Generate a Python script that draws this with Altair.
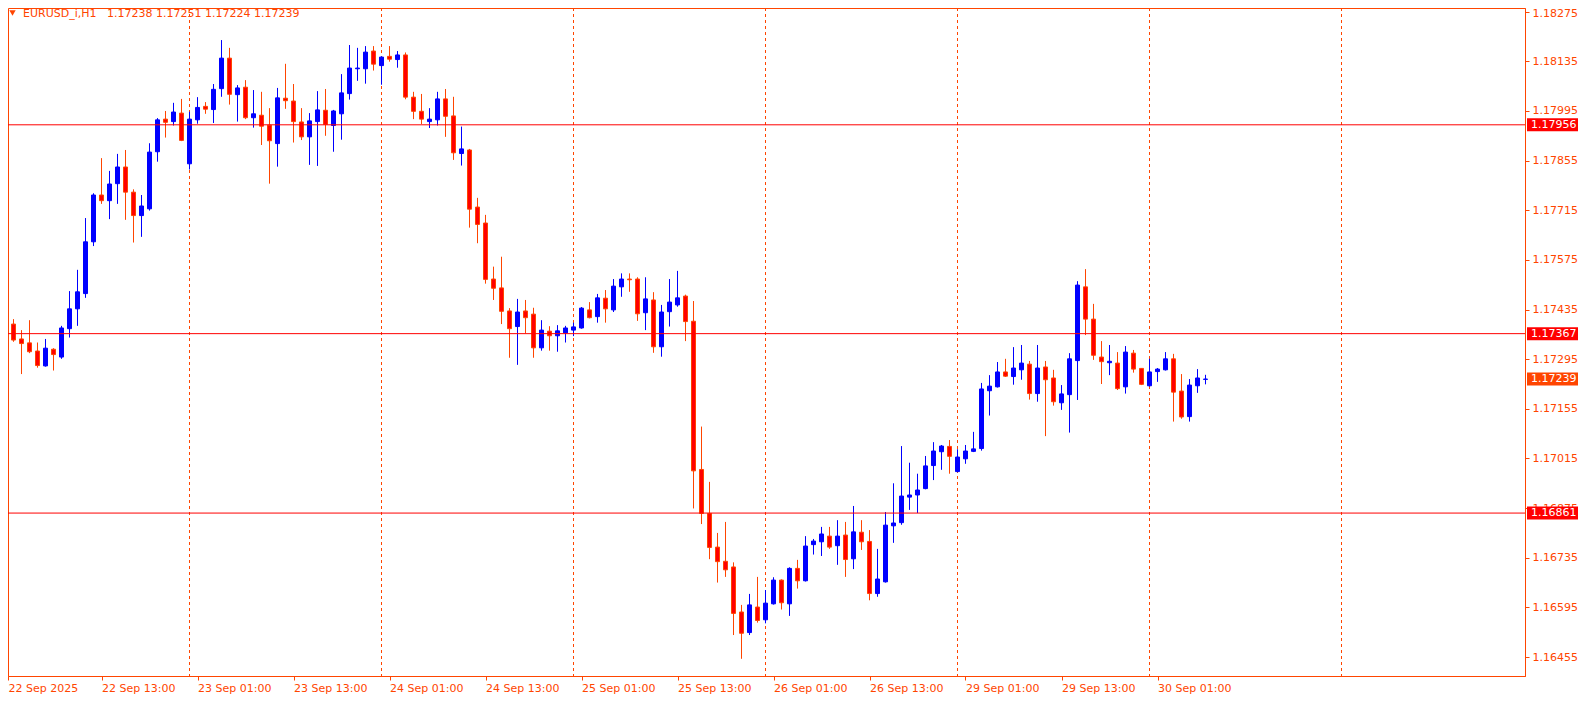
import altair as alt
import pandas as pd

symbol = "EURUSD_i,H1"

open_ = [1.17434, 1.17394, 1.17352, 1.17341, 1.17318, 1.17276, 1.17323, 1.17301, 1.17381, 1.17437,
         1.17480, 1.17626, 1.17758, 1.17742, 1.17790, 1.17837, 1.17766, 1.17700, 1.17719, 1.17880,
         1.17972, 1.17965, 1.17989, 1.17846, 1.17970, 1.18008, 1.17999, 1.18058, 1.18144, 1.18041,
         1.18062, 1.17976, 1.17983, 1.17955, 1.17903, 1.18031, 1.18023, 1.17964, 1.17922, 1.17965,
         1.17997, 1.17954, 1.17987, 1.18044, 1.18114, 1.18114, 1.18164, 1.18123, 1.18149, 1.18140,
         1.18153, 1.18034, 1.17994, 1.17965, 1.17970, 1.18029, 1.17981, 1.17875, 1.17885, 1.17724,
         1.17679, 1.17521, 1.17496, 1.17431, 1.17387, 1.17431, 1.17422, 1.17327, 1.17374, 1.17361,
         1.17369, 1.17377, 1.17383, 1.17434, 1.17415, 1.17467, 1.17434, 1.17499, 1.17521, 1.17521,
         1.17426, 1.17462, 1.17330, 1.17429, 1.17448, 1.17473, 1.17402, 1.16984, 1.16860, 1.16765,
         1.16725, 1.16709, 1.16582, 1.16524, 1.16596, 1.16560, 1.16605, 1.16672, 1.16605, 1.16705,
         1.16670, 1.16772, 1.16780, 1.16796, 1.16769, 1.16799, 1.16732, 1.16807, 1.16781, 1.16634,
         1.16667, 1.16825, 1.16834, 1.16906, 1.16912, 1.16930, 1.16995, 1.17034, 1.17049, 1.16978,
         1.17014, 1.17035, 1.17043, 1.17206, 1.17217, 1.17259, 1.17246, 1.17265, 1.17281, 1.17198,
         1.17273, 1.17242, 1.17172, 1.17195, 1.17291, 1.17499, 1.17408, 1.17301, 1.17285, 1.17284,
         1.17217, 1.17312, 1.17269, 1.17220, 1.17260, 1.17265, 1.17296, 1.17205, 1.17133, 1.17220,
         1.17238]

high = [1.17481, 1.17408, 1.17377, 1.17405, 1.17342, 1.17352, 1.17326, 1.17389, 1.17487, 1.17547,
        1.17693, 1.17763, 1.17862, 1.17826, 1.17874, 1.17885, 1.17774, 1.17758, 1.17904, 1.17975,
        1.17995, 1.18018, 1.18029, 1.17993, 1.18034, 1.18020, 1.18071, 1.18195, 1.18173, 1.18068,
        1.18082, 1.18054, 1.18049, 1.18003, 1.18060, 1.18128, 1.18071, 1.18003, 1.17989, 1.18051,
        1.18057, 1.17998, 1.18099, 1.18181, 1.18173, 1.18178, 1.18178, 1.18149, 1.18178, 1.18164,
        1.18160, 1.18049, 1.18043, 1.18003, 1.18049, 1.18057, 1.18035, 1.17951, 1.17888, 1.17750,
        1.17702, 1.17556, 1.17584, 1.17439, 1.17465, 1.17462, 1.17440, 1.17405, 1.17388, 1.17391,
        1.17389, 1.17398, 1.17442, 1.17456, 1.17479, 1.17490, 1.17521, 1.17537, 1.17537, 1.17526,
        1.17526, 1.17484, 1.17448, 1.17521, 1.17544, 1.17477, 1.17459, 1.17105, 1.16949, 1.16805,
        1.16836, 1.16722, 1.16602, 1.16633, 1.16681, 1.16644, 1.16680, 1.16674, 1.16708, 1.16729,
        1.16796, 1.16788, 1.16822, 1.16822, 1.16841, 1.16836, 1.16881, 1.16841, 1.16813, 1.16760,
        1.16864, 1.16945, 1.17050, 1.17003, 1.16972, 1.17022, 1.17061, 1.17053, 1.17067, 1.17041,
        1.17053, 1.17090, 1.17228, 1.17250, 1.17287, 1.17296, 1.17329, 1.17335, 1.17290, 1.17335,
        1.17290, 1.17265, 1.17222, 1.17312, 1.17515, 1.17549, 1.17451, 1.17346, 1.17335, 1.17315,
        1.17332, 1.17321, 1.17270, 1.17296, 1.17270, 1.17315, 1.17310, 1.17253, 1.17239, 1.17267,
        1.17251]

low = [1.17382, 1.17344, 1.17253, 1.17312, 1.17271, 1.17274, 1.17263, 1.17296, 1.17356, 1.17389,
       1.17468, 1.17614, 1.17733, 1.17690, 1.17733, 1.17688, 1.17624, 1.17640, 1.17714, 1.17852,
       1.17920, 1.17954, 1.17910, 1.17830, 1.17959, 1.17987, 1.17961, 1.18035, 1.18013, 1.17965,
       1.17972, 1.17948, 1.17899, 1.17790, 1.17838, 1.18001, 1.17906, 1.17913, 1.17843, 1.17840,
       1.17925, 1.17880, 1.17914, 1.18027, 1.18080, 1.18072, 1.18109, 1.18069, 1.18134, 1.18117,
       1.18028, 1.17972, 1.17958, 1.17947, 1.17954, 1.17922, 1.17857, 1.17841, 1.17666, 1.17622,
       1.17508, 1.17462, 1.17394, 1.17299, 1.17279, 1.17368, 1.17299, 1.17319, 1.17319, 1.17316,
       1.17342, 1.17360, 1.17381, 1.17410, 1.17398, 1.17398, 1.17428, 1.17471, 1.17485, 1.17403,
       1.17377, 1.17313, 1.17302, 1.17387, 1.17443, 1.17346, 1.16874, 1.16830, 1.16731, 1.16665,
       1.16681, 1.16517, 1.16450, 1.16517, 1.16552, 1.16550, 1.16603, 1.16589, 1.16571, 1.16648,
       1.16668, 1.16744, 1.16740, 1.16760, 1.16715, 1.16681, 1.16703, 1.16757, 1.16615, 1.16625,
       1.16665, 1.16777, 1.16828, 1.16870, 1.16861, 1.16928, 1.16954, 1.16983, 1.16972, 1.16976,
       1.17000, 1.17033, 1.17037, 1.17136, 1.17215, 1.17245, 1.17223, 1.17237, 1.17181, 1.17175,
       1.17078, 1.17164, 1.17152, 1.17088, 1.17180, 1.17363, 1.17293, 1.17225, 1.17250, 1.17208,
       1.17198, 1.17257, 1.17222, 1.17218, 1.17231, 1.17263, 1.17119, 1.17127, 1.17119, 1.17200,
       1.17224]

close = [1.17399, 1.17349, 1.17339, 1.17316, 1.17277, 1.17326, 1.17308, 1.17383, 1.17437, 1.17485,
         1.17626, 1.17758, 1.17742, 1.17789, 1.17837, 1.17766, 1.17700, 1.17727, 1.17879, 1.17970,
         1.17963, 1.17992, 1.17912, 1.17972, 1.18005, 1.18000, 1.18056, 1.18144, 1.18042, 1.18060,
         1.17976, 1.17987, 1.17952, 1.17911, 1.18032, 1.18024, 1.17965, 1.17922, 1.17967, 1.17998,
         1.17957, 1.17995, 1.18046, 1.18116, 1.18116, 1.18161, 1.18127, 1.18147, 1.18141, 1.18153,
         1.18034, 1.17994, 1.17972, 1.17972, 1.18029, 1.17980, 1.17877, 1.17888, 1.17718, 1.17675,
         1.17520, 1.17495, 1.17430, 1.17381, 1.17428, 1.17412, 1.17327, 1.17377, 1.17361, 1.17375,
         1.17383, 1.17386, 1.17439, 1.17412, 1.17468, 1.17437, 1.17501, 1.17521, 1.17519, 1.17423,
         1.17465, 1.17330, 1.17428, 1.17456, 1.17468, 1.17401, 1.16980, 1.16860, 1.16764, 1.16724,
         1.16701, 1.16578, 1.16522, 1.16602, 1.16558, 1.16607, 1.16672, 1.16608, 1.16705, 1.16670,
         1.16768, 1.16782, 1.16802, 1.16765, 1.16796, 1.16730, 1.16808, 1.16780, 1.16634, 1.16675,
         1.16827, 1.16833, 1.16909, 1.16912, 1.16926, 1.16994, 1.17036, 1.17050, 1.17021, 1.17019,
         1.17036, 1.17042, 1.17211, 1.17219, 1.17259, 1.17247, 1.17270, 1.17284, 1.17198, 1.17270,
         1.17237, 1.17175, 1.17197, 1.17296, 1.17504, 1.17408, 1.17306, 1.17288, 1.17289, 1.17212,
         1.17315, 1.17267, 1.17224, 1.17259, 1.17267, 1.17296, 1.17202, 1.17132, 1.17222, 1.17242,
         1.17239]

tick_bars = [0, 12, 24, 36, 48, 60, 72, 84, 96, 108, 120, 132, 144]
tick_labels = ["22 Sep 2025", "22 Sep 13:00", "23 Sep 01:00", "23 Sep 13:00", "24 Sep 01:00",
               "24 Sep 13:00", "25 Sep 01:00", "25 Sep 13:00", "26 Sep 01:00", "26 Sep 13:00",
               "29 Sep 01:00", "29 Sep 13:00", "30 Sep 01:00"]
day_lines = [23, 47, 71, 95, 119, 143, 167]
price_ticks = [1.16455, 1.16595, 1.16735, 1.16875, 1.17015, 1.17155, 1.17295,
               1.17435, 1.17575, 1.17715, 1.17855, 1.17995, 1.18135, 1.18275]
levels = [1.17956, 1.17367, 1.16861]

FG = "#FF4500"
BULL = "#0000FF"
BEAR_FILL = "#FF0000"
LINE = "#FF0000"
FONT = "DejaVu Sans"

W, H = 1517, 668
x_dom = [0.3125, (W + 2.5) / 8]
y_dom = [1.164015, 1.182854]
xs = alt.Scale(domain=x_dom, nice=False, zero=False, padding=0)
ys = alt.Scale(domain=y_dom, nice=False, zero=False, padding=0)
px = (y_dom[1] - y_dom[0]) / H

n = len(close)
df = pd.DataFrame({"i": list(range(n)), "open": open_, "high": high, "low": low, "close": close})

bull = "datum.close >= datum.open"

x_vals = [max(b, 0.32) for b in tick_bars]
lab_js = "[" + ",".join("'" + t + "'" for t in tick_labels) + "][round(datum.value/12)]"

x_axis = alt.Axis(values=x_vals, labelExpr=lab_js, orient="bottom", tickSize=4, labelPadding=2,
                  labelAlign="left", labelBaseline="top", labelColor=FG, tickColor=FG,
                  domainColor=FG, labelFont=FONT, labelFontSize=11, grid=False, title=None,
                  labelFlush=False, labelOverlap=False)
y_axis = alt.Axis(values=price_ticks, format=".5f", orient="right", tickSize=4, labelPadding=3,
                  labelAlign="left", labelBaseline="middle", labelColor=FG, tickColor=FG,
                  domainColor=FG, labelFont=FONT, labelFontSize=11, grid=False, title=None,
                  labelFlush=False, labelOverlap=False,
                  labelOffset={"condition": {"test": f"datum.value > {price_ticks[-1] - 0.00005}",
                                             "value": 1.5}, "value": 0})

grid = alt.Chart(pd.DataFrame({"d": day_lines})).mark_rule(
    color=FG, strokeWidth=1, strokeDash=[3, 3]
).encode(x=alt.X("d:Q", scale=xs, axis=x_axis))

wicks = alt.Chart(df).mark_rule(strokeWidth=1).encode(
    x=alt.X("i:Q", scale=xs, axis=x_axis),
    y=alt.Y("low:Q", scale=ys, axis=y_axis),
    y2="high:Q",
    stroke=alt.condition(bull, alt.value(BULL), alt.value(FG)),
)

bodies = alt.Chart(df).mark_bar(size=4, strokeWidth=1).encode(
    x=alt.X("i:Q", scale=xs, axis=x_axis),
    y=alt.Y("open:Q", scale=ys, axis=y_axis),
    y2="close:Q",
    fill=alt.condition(bull, alt.value(BULL), alt.value(BEAR_FILL)),
    stroke=alt.condition(bull, alt.value(BULL), alt.value(FG)),
)

hlines = alt.Chart(pd.DataFrame({"p": levels})).mark_rule(color=LINE, strokeWidth=1).encode(
    y=alt.Y("p:Q", scale=ys, axis=y_axis)
)

box_df = pd.DataFrame({"p": levels + [close[-1]], "c": [LINE] * len(levels) + [FG]})
boxes = alt.Chart(box_df).transform_calculate(
    top=f"datum.p + {6.5 * px}", bot=f"datum.p - {6.5 * px}"
).mark_rect().encode(
    x=alt.value(W + 2), x2=alt.value(W + 53),
    y=alt.Y("top:Q", scale=ys, axis=y_axis), y2="bot:Q",
    fill=alt.Color("c:N", scale=None),
)
box_text = alt.Chart(box_df).mark_text(
    align="left", baseline="middle", color="white", font=FONT, fontSize=11
).encode(
    x=alt.value(W + 6),
    y=alt.Y("p:Q", scale=ys, axis=y_axis),
    text=alt.Text("p:Q", format=".5f"),
)

one = pd.DataFrame({"a": [0]})
gap = "\u00a0\u00a0\u00a0"
title_txt = f"{symbol}{gap}{open_[-1]:.5f} {high[-1]:.5f} {low[-1]:.5f} {close[-1]:.5f}"
tri = alt.Chart(one).mark_point(shape="triangle-down", filled=True, color=FG, size=40, opacity=1).encode(
    x=alt.value(4.5), y=alt.value(5)
)
title = alt.Chart(one).mark_text(
    align="left", baseline="middle", color=FG, font=FONT, fontSize=11
).encode(x=alt.value(15), y=alt.value(6), text=alt.value(title_txt))

chart = alt.layer(grid, wicks, bodies, hlines, boxes, box_text, tri, title).properties(
    width=W, height=H,
    autosize=alt.AutoSizeParams(type="none"),
    padding={"left": 0, "top": 0, "right": 53, "bottom": 19},
    background="white",
).configure_view(stroke=FG, strokeWidth=1)

chart.save("out.html", embed_options={"renderer": "svg", "actions": False})
